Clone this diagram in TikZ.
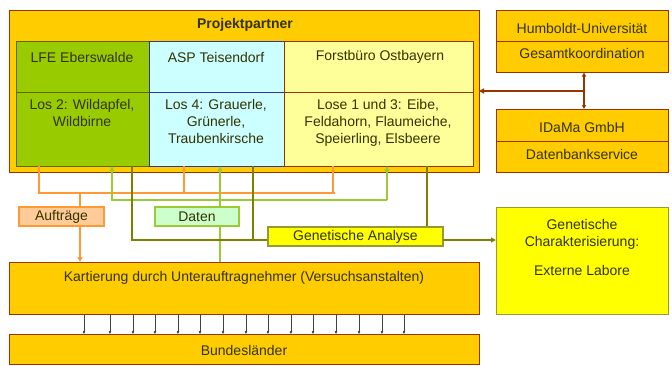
\documentclass[tikz,border=0pt]{standalone}
\usepackage{fontspec}
\setmainfont{Liberation Sans}
\usetikzlibrary{arrows.meta}
\definecolor{gold}{HTML}{FFCC00}
\definecolor{dred}{HTML}{993300}
\definecolor{lfegreen}{HTML}{99CC00}
\definecolor{lfeborder}{HTML}{666600}
\definecolor{aspblue}{HTML}{CCFFFF}
\definecolor{aspborder}{HTML}{333399}
\definecolor{fbyellow}{HTML}{FFFF99}
\definecolor{orangeline}{HTML}{FF9933}
\definecolor{orangefill}{HTML}{FFCC99}
\definecolor{greenline}{HTML}{99CC33}
\definecolor{greenfill}{HTML}{CCFFCC}
\definecolor{oliveline}{HTML}{808000}
\definecolor{yel}{HTML}{FFFF00}
\definecolor{olivebd}{HTML}{999933}
\definecolor{txt}{HTML}{333300}
\begin{document}
\begin{tikzpicture}[x=1pt,y=-1pt,
  font=\fontsize{14}{16.7}\selectfont, text=txt,
  box/.style={draw=#1, line width=0.9pt, inner sep=0pt, outer sep=0pt},
  lbl/.style={inner sep=0pt, align=center},
  oline/.style={draw=orangeline, line width=1.8pt},
  gline/.style={draw=greenline, line width=1.8pt},
  vline/.style={draw=oliveline, line width=1.8pt},
  bline/.style={draw=dred, line width=1.5pt},
  tip/.style={-{Triangle[length=5pt,width=5pt]}},
  smallarrow/.style={draw=black!75, line width=0.5pt, -{Triangle[length=3pt,width=2.5pt]}}
]
\useasboundingbox (0,0) rectangle (672,365);

% Projektpartner outer
\node[box=dred, fill=gold, minimum width=470pt, minimum height=162pt] (pp) at (244,91) {};
\node[lbl, font=\fontsize{14}{16.7}\selectfont\bfseries] (pptitle) at (245,25) {Projektpartner};

% LFE
\node[box=lfeborder, fill=lfegreen, minimum width=133pt, minimum height=51pt] (lfeh) at (82.5,66.5) {};
\node[box=lfeborder, fill=lfegreen, minimum width=133pt, minimum height=74pt] (lfel) at (82.5,129) {};
% ASP
\node[box=aspborder, fill=aspblue, minimum width=135pt, minimum height=51pt] (asph) at (216.5,66.5) {};
\node[box=aspborder, fill=aspblue, minimum width=135pt, minimum height=74pt] (aspl) at (216.5,129) {};
% Forstbuero
\node[box=dred, fill=fbyellow, minimum width=189pt, minimum height=51pt] (fbh) at (378.5,66.5) {};
\node[box=dred, fill=fbyellow, minimum width=189pt, minimum height=74pt] (fbl) at (378.5,129) {};

\node[lbl] (lfet) at (82,57) {LFE Eberswalde};
\node[lbl] (aspt) at (216,57) {ASP Teisendorf};
\node[lbl] (fbt) at (380,57) {Forstbüro Ostbayern};
\node[lbl, anchor=north] (lfex) at (82,99.5) {Los 2: Wildapfel,\\Wildbirne};
\node[lbl, anchor=north] (aspx) at (216,99.5) {Los 4: Grauerle,\\Grünerle,\\Traubenkirsche};
\node[lbl, anchor=north] (fbx) at (378,99.5) {Lose 1 und 3: Eibe,\\Feldahorn, Flaumeiche,\\Speierling, Elsbeere};

% Humboldt
\node[box=dred, fill=gold, minimum width=172pt, minimum height=31pt] (hu) at (582,26) {};
\node[box=dred, fill=gold, minimum width=172pt, minimum height=31pt] (gk) at (582,57) {};
\node[lbl] at (582,28) {Humboldt-Universität};
\node[lbl] at (582,53) {Gesamtkoordination};
% IDaMa
\node[box=dred, fill=gold, minimum width=172pt, minimum height=32pt] (id) at (582,125) {};
\node[box=dred, fill=gold, minimum width=172pt, minimum height=31pt] (db) at (582,156.5) {};
\node[lbl] at (582,127) {IDaMa GmbH};
\node[lbl] at (582,154) {Datenbankservice};

% Genetische Charakterisierung
\node[box=olivebd, fill=yel, minimum width=172pt, minimum height=107pt] (gc) at (582,260.5) {};
\node[lbl, anchor=north] at (582,219) {Genetische\\Charakterisierung:};
\node[lbl] at (582,270) {Externe Labore};

% Kartierung and Bundeslaender
\node[box=dred, fill=gold, minimum width=470pt, minimum height=52pt] (kt) at (244,288) {};
\node[lbl] at (244,278) {Kartierung durch Unterauftragnehmer (Versuchsanstalten)};
\node[box=dred, fill=gold, minimum width=470pt, minimum height=30pt] (bl) at (244,349) {};
\node[lbl] at (244,350) {Bundesländer};

% brown connectors
\coordinate (bj) at (584,91);
\draw[bline, {Triangle[length=4pt,width=4pt]}-{Triangle[length=4pt,width=4pt]}] (gk.south -| bj) -- (id.north -| bj);
\draw[bline, tip] (bj) -- (pp.east |- bj);

% orange connectors
\coordinate (oa) at (39,193);
\coordinate (ob) at (184,193);
\coordinate (oc) at (333,193);
\coordinate (od) at (80,193);
\draw[oline] (lfel.south -| oa) -- (oa);
\draw[oline] (aspl.south -| ob) -- (ob);
\draw[oline] (fbl.south -| oc) -- (oc);
\draw[oline] ([xshift=-1.5pt]oa) -- ([xshift=1.5pt]oc);

% green connectors
\coordinate (ga) at (112,200);
\coordinate (gb) at (387,200);
\coordinate (gx) at (220,200);
\draw[gline, tip] (ga) -- (lfel.south -| ga);
\draw[gline, tip] (gb) -- (fbl.south -| gb);
\draw[gline] ([xshift=-1.5pt]ga) -- (gb);
\draw[gline, tip] (kt.north -| gx) -- (aspl.south -| gx);

% olive connectors
\coordinate (va) at (132,240);
\coordinate (vb) at (253,240);
\coordinate (vc) at (427,227);
\draw[vline] (lfel.south -| va) -- (va) -- (268,240);
\draw[vline] (aspl.south -| vb) -- (vb);
\draw[vline] (fbl.south -| vc) -- (vc);

% small boxes
\node[box=orangeline, fill=orangefill, minimum width=85pt, minimum height=19pt, line width=1.2pt] (auf) at (61.5,216.5) {Aufträge};
\node[box=greenline, fill=greenfill, minimum width=84pt, minimum height=19pt, line width=1.2pt] (dat) at (197,216.5) {Daten};
\node[box=olivebd, fill=yel, minimum width=175pt, minimum height=19pt, line width=1.2pt] (ga2) at (355.5,236.5) {Genetische Analyse};

\draw[oline] (od) -- (auf.north -| od);
\draw[oline, tip] (auf.south -| od) -- (kt.north -| od);
\draw[vline, line width=1.5pt, tip] (ga2.east |- 0,240) -- (gc.west |- 0,240);

% small arrows
\foreach \x [count=\i] in {84,110,133,155,178,200,223,246,268,291,313,336,359,382,404} {
  \draw[smallarrow] (kt.south -| \x,0) -- (bl.north -| \x,0);
}
\end{tikzpicture}
\end{document}
